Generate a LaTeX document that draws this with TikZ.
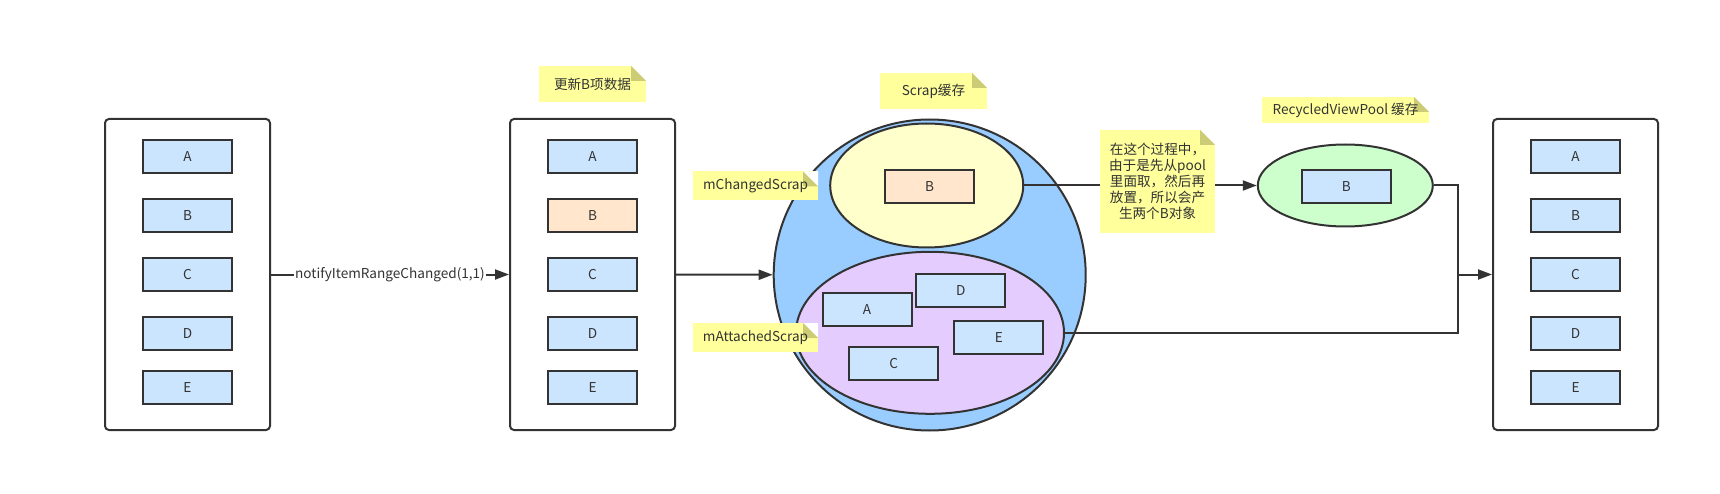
\documentclass[tikz,border=0pt]{standalone}
\usepackage{fontspec}
\setmainfont{Noto Sans CJK SC}
\usetikzlibrary{positioning,shapes.geometric,arrows.meta}

\definecolor{ink}{HTML}{333333}
\definecolor{itemblue}{HTML}{CCE5FF}
\definecolor{itemorange}{HTML}{FFE6CC}
\definecolor{scrapblue}{HTML}{99CCFF}
\definecolor{changedyellow}{HTML}{FFFFCC}
\definecolor{attachedpurple}{HTML}{E5CCFF}
\definecolor{poolgreen}{HTML}{CCFFCC}
\definecolor{memofill}{HTML}{FFFF9C}
\definecolor{memofold}{HTML}{CCCC77}

\tikzset{
  every node/.style={text=ink, font=\fontsize{13.6}{16}\selectfont},
  panel/.style={draw=ink, line width=2pt, rounded corners=4pt, minimum width=165pt, minimum height=311pt},
  item/.style={draw=ink, line width=2pt, fill=itemblue, minimum width=89pt, minimum height=33pt, inner sep=0pt},
  bubble/.style={draw=ink, line width=2pt, ellipse, inner sep=0pt},
  memo/.style={fill=memofill, inner sep=0pt, align=center,
    path picture={
      \fill[white] ([xshift=-15pt]path picture bounding box.north east) -- (path picture bounding box.north east)
        -- ([yshift=-15pt]path picture bounding box.north east) -- cycle;
      \fill[memofold] ([xshift=-15pt]path picture bounding box.north east) |- ([yshift=-15pt]path picture bounding box.north east) -- cycle;
    }},
  link/.style={draw=ink, line width=2pt, -{Triangle[length=14pt,width=10pt]}},
}

\begin{document}
\begin{tikzpicture}[x=1pt,y=-1pt]
    \useasboundingbox (0,0) rectangle (1720,494);

    % lists before / after
    \foreach \c/\x in {l/187.5, r/1575.5} {
        \node[panel] (\c) at (\x,274.5) {};
        \foreach \t/\y in {A/156.5, B/215.5, C/274.5, D/333.5, E/387.5}
            \node[item] (\c\t) at (\x,\y) {\t};
    }
    \node[panel] (m) at (592.5,274.5) {};
    \foreach \t/\y/\f in {A/156.5/itemblue, B/215.5/itemorange, C/274.5/itemblue, D/333.5/itemblue, E/387.5/itemblue}
        \node[item, fill=\f] (m\t) at (592.5,\y) {\t};

    % scrap caches
    \node[bubble, fill=scrapblue, minimum width=312pt, minimum height=311pt] (scrap) at (929.7,275) {};
    \node[bubble, fill=changedyellow, minimum width=193pt, minimum height=124pt] (changed) at (926.7,185.5) {};
    \node[bubble, fill=attachedpurple, minimum width=268pt, minimum height=162pt] (attached) at (930,332.8) {};
    \node[item, fill=itemorange] (sB) at (929.7,186.3) {B};
    \node[item] (sA) at (867,309.2) {A};
    \node[item] (sD) at (960.8,290.2) {D};
    \node[item] (sE) at (998.8,337.2) {E};
    \node[item] (sC) at (893.8,363.2) {C};

    % pool
    \node[bubble, fill=poolgreen, minimum width=175pt, minimum height=82pt] (pool) at (1345.3,185.5) {};
    \node[item] (pB) at (1346.2,186.5) {B};

    % notes
    \node[memo, minimum width=107pt, minimum height=36pt] (updatenote) at (592.5,84) {更新B项数据};
    \node[memo, minimum width=107pt, minimum height=36pt] (scrapnote) at (933.5,91) {Scrap缓存};
    \node[memo, minimum width=125pt, minimum height=29pt] (changednote) at (755.5,186) {mChangedScrap};
    \node[memo, minimum width=125pt, minimum height=29pt] (attachednote) at (755.5,337.5) {mAttachedScrap};
    \node[memo, minimum width=167pt, minimum height=26pt] (poolnote) at (1345.5,110) {RecycledViewPool 缓存};

    % connectors
    \draw[link] (l) -- node[fill=white, inner sep=1pt] {notifyItemRangeChanged(1,1)} (m);
    \draw[link] (m) -- (scrap);
    \draw[link] (changed) -- (pool);
    \coordinate (join) at (1458,274.5);
    \draw[link] (pool.east) -| (join) -- (r);
    \draw[draw=ink, line width=2pt] (attached.east) -| (join);

    \node[memo, minimum width=115pt, minimum height=103pt] (whynote) at (1157.5,181.5)
        {在这个过程中，\\由于是先从pool\\里面取，然后再\\放置，所以会产\\生两个B对象};
\end{tikzpicture}
\end{document}
